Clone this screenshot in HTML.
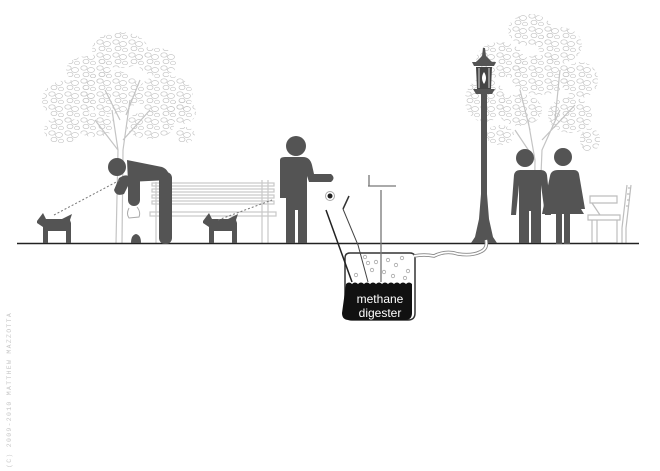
<!DOCTYPE html>
<html><head><meta charset="utf-8"><style>
html,body{margin:0;padding:0;background:#fff;width:660px;height:471px;overflow:hidden}
svg{display:block}
</style></head><body>
<svg width="660" height="471" viewBox="0 0 660 471" xmlns="http://www.w3.org/2000/svg">
<defs>
<pattern id="leaf" width="16" height="13" patternUnits="userSpaceOnUse">
<g fill="none" stroke="#c6c6c6" stroke-width="0.7">
<ellipse cx="4" cy="3" rx="3.2" ry="2.2"/><ellipse cx="11" cy="5" rx="3.5" ry="2.5"/><ellipse cx="6" cy="9.5" rx="3" ry="2.2"/><ellipse cx="13" cy="11" rx="2.5" ry="1.8"/>
</g>
</pattern>
</defs>
<g fill="url(#leaf)">
<ellipse cx="88" cy="70" rx="22" ry="14"/><ellipse cx="120" cy="50" rx="28" ry="18"/><ellipse cx="158" cy="62" rx="20" ry="14"/>
<ellipse cx="68" cy="100" rx="26" ry="20"/><ellipse cx="110" cy="92" rx="30" ry="22"/><ellipse cx="165" cy="95" rx="28" ry="20"/>
<ellipse cx="62" cy="130" rx="18" ry="14"/><ellipse cx="95" cy="125" rx="20" ry="12"/><ellipse cx="150" cy="125" rx="24" ry="14"/><ellipse cx="182" cy="112" rx="14" ry="12"/>
<ellipse cx="185" cy="135" rx="10" ry="8"/>
</g>
<g fill="url(#leaf)">
<ellipse cx="530" cy="30" rx="22" ry="16"/><ellipse cx="560" cy="45" rx="22" ry="18"/><ellipse cx="500" cy="60" rx="24" ry="18"/>
<ellipse cx="540" cy="75" rx="30" ry="20"/><ellipse cx="580" cy="80" rx="18" ry="18"/><ellipse cx="485" cy="100" rx="20" ry="22"/>
<ellipse cx="520" cy="110" rx="22" ry="16"/><ellipse cx="570" cy="115" rx="22" ry="18"/><ellipse cx="590" cy="140" rx="10" ry="12"/><ellipse cx="500" cy="135" rx="14" ry="10"/>
</g>
<g stroke="#c4c4c4" stroke-width="1.2" fill="none">
<path d="M116 243 L118 150 L112 110 M122 243 L123 150 L130 100 M118 150 L95 120 M123 140 L150 110 M120 120 L105 90 M126 115 L140 80"/>
<path d="M534 243 L535 160 L528 120 M540 200 L542 150 L560 110 M535 160 L515 130 M542 140 L575 105 M530 130 L520 90 M555 120 L560 70"/>
</g>
<g stroke="#c8c8c8" stroke-width="1.2" fill="none">
<rect x="152" y="183" width="122" height="3"/><rect x="152" y="189" width="122" height="3"/><rect x="152" y="195" width="122" height="3"/><rect x="152" y="201" width="122" height="3"/>
<rect x="150" y="212" width="126" height="4"/>
<path d="M156 182 V243 M162 182 V243 M262 180 V243 M268 180 V243"/>
</g>
<g stroke="#bdbdbd" stroke-width="1.2" fill="none">
<path d="M590 196 H617 V203 H590 Z M592 203 L600 215 M588 215 H620 V220 H588 Z M592 220 V243 M597 220 V243 M592 243 H617 V220"/>
<path d="M627 185 L622 228 M631 185 L626 228 M622 228 V243 M626 228 V243"/>
<path d="M628 188 l3 0 M627 194 l3 0 M627 200 l3 0 M626 206 l3 0"/>
</g>
<line x1="17" y1="243.5" x2="639" y2="243.5" stroke="#222" stroke-width="1.5"/>
<g fill="#545454">
<path d="M37 221 l6 -8 l3 6 l16 0 l10 -5 l-2 6 l1 3 v20 h-5 v-12 h-18 v12 h-5 v-16 l-6 -4 z"/>
<path d="M203 221 l6 -8 l3 6 l16 0 l10 -5 l-2 6 l1 3 v20 h-5 v-12 h-18 v12 h-5 v-16 l-6 -4 z"/>
<path d="M131 243 q0 -8 5 -9 q5 1 5 9 z"/>
<circle cx="117" cy="167" r="9"/>
<path d="M127 160 L162 167 Q170 170 169 180 L128 182 Z"/>
<rect x="159" y="172" width="13" height="72" rx="6"/>
<path d="M119 178 q10 -6 12 2 l-7 14 q-8 3 -10 -4 z"/>
<rect x="128" y="176" width="12" height="30" rx="6"/>
<circle cx="296" cy="146" r="10"/>
<path d="M280 160 q0 -3 5 -3 h18 q7 0 9 8 l2 9 h17 q5 4 0 8 h-22 l-2 -6 v67 h-9 v-33 h-3 v33 h-9 v-45 l-6 0 z"/>
<circle cx="525" cy="158" r="9"/>
<path d="M508 170 h33 q5 0 6 5 l4 40 h-6 l-4 -30 v58 h-10 v-32 h-2 v32 h-10 v-58 l-3 30 h-5 l3 -40 q1 -5 6 -5 z"/>
<circle cx="563" cy="157" r="9"/>
<path d="M552 170 h22 q4 0 5 4 l6 35 h-4 l3 5 h-14 v30 h-6 v-30 h-2 v30 h-6 v-30 h-14 l8 -38 q1 -6 8 -6 z"/>
<path d="M483 48 l2 0 l1 8 l6 6 h4 l-2 4 h-20 l-2 -4 h4 l6 -6 z"/>
<path d="M476 67 h16 l-1 22 h-14 z" fill="#444"/>
<path d="M484 72 q4 6 0 12 q-4 -6 0 -12z" fill="#fff"/>
<path d="M473 89 h22 l-3 5 h-16 z"/>
<path d="M481 94 h6 v100 l2 25 l4 18 l4 6 h-26 l4 -6 l4 -18 l2 -25 z"/>
</g>
<path d="M479 68 v20 M489 68 v20" stroke="#fff" stroke-width="0.8"/>
<path d="M54 215 L120 180" stroke="#777" stroke-width="1" stroke-dasharray="2,2"/>
<path d="M218 220 L272 200" stroke="#777" stroke-width="1" stroke-dasharray="2,2"/>
<path d="M129 208 q-3 6 0 10 l10 -1 q2 -5 -2 -10" fill="#fff" stroke="#aaa"/>
<path d="M345 258 q0 -5 5 -5 h60 q5 0 5 5 v55 q0 7 -7 7 h-56 q-7 0 -7 -7 z" fill="#fff" stroke="#333" stroke-width="1.5"/>
<path d="M346 284 q3 -3 6 0 q3 -3 6 0 q3 -3 6 0 q3 -3 6 0 q3 -3 6 0 q3 -3 6 0 q3 -3 6 0 q3 -3 6 0 q3 -3 6 0 q3 -3 6 0 q3 -3 6 0 V313 q0 7 -7 7 h-56 q-7 0 -7 -7 z" fill="#111"/>
<g fill="none" stroke="#aaa" stroke-width="0.8">
<circle cx="365" cy="257" r="1.7"/><circle cx="376" cy="262" r="1.7"/><circle cx="388" cy="260" r="1.7"/><circle cx="396" cy="265" r="1.7"/><circle cx="372" cy="270" r="1.7"/><circle cx="384" cy="272" r="1.7"/><circle cx="402" cy="258" r="1.7"/><circle cx="408" cy="271" r="1.7"/><circle cx="393" cy="276" r="1.7"/><circle cx="368" cy="263" r="1.7"/><circle cx="356" cy="275" r="1.7"/><circle cx="405" cy="278" r="1.7"/>
</g>
<text x="380" y="303" fill="#fff" font-family="Liberation Sans, sans-serif" font-size="12" text-anchor="middle">methane</text>
<text x="380" y="317" fill="#fff" font-family="Liberation Sans, sans-serif" font-size="12" text-anchor="middle">digester</text>
<path d="M326 210 L352 282" stroke="#222" stroke-width="1.5" fill="none"/>
<path d="M343 209 L358 245 L368 282" stroke="#444" stroke-width="1" fill="none"/>
<path d="M343 209 L349 196" stroke="#333" stroke-width="1.5"/>
<circle cx="330" cy="196" r="4.5" fill="#fff" stroke="#aaa"/>
<circle cx="330" cy="196" r="2.5" fill="#222"/>
<path d="M381 190 V282 M368 186 H396 M369 175 V186" stroke="#777" stroke-width="1.3" fill="none"/>
<path d="M414 256 q10 -2 20 0 q12 -6 24 -2 q14 2 22 -2 q8 -3 6 -12" stroke="#888" stroke-width="3.5" fill="none"/>
<path d="M414 256 q10 -2 20 0 q12 -6 24 -2 q14 2 22 -2 q8 -3 6 -12" stroke="#fff" stroke-width="1.8" fill="none"/>
<text transform="translate(11 468) rotate(-90)" font-family="Liberation Mono, monospace" font-size="6.5" fill="#c8c8c8" letter-spacing="1.3">(C) 2009-2010 MATTHEW MAZZOTTA</text>
</svg>
</body></html>
